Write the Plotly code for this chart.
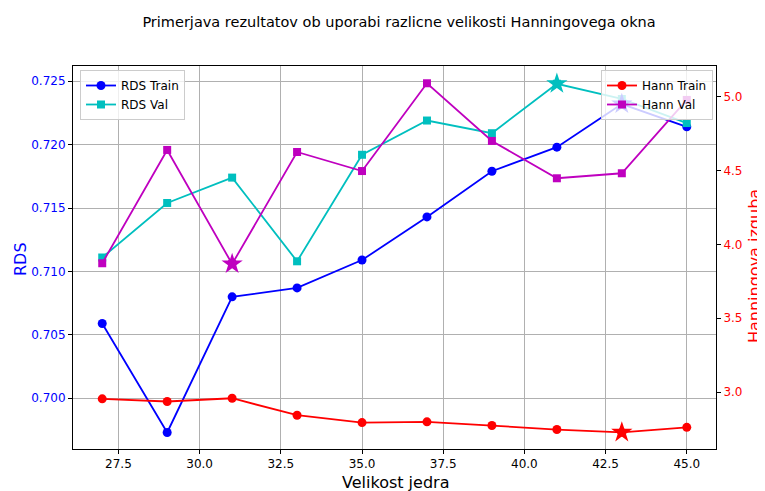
import plotly.graph_objects as go
import numpy as np

kernel_sizes = [27, 29, 31, 33, 35, 37, 39, 41, 43, 45]
rds_train = [0.7059, 0.6973, 0.7080, 0.7087, 0.7109, 0.7143, 0.7179, 0.7198, 0.7232, 0.7214]
rds_val = [0.7111, 0.7154, 0.7174, 0.7108, 0.7192, 0.7219, 0.7209, 0.7248, 0.7236, 0.7217]
hann_train = [2.954, 2.936, 2.958, 2.843, 2.793, 2.798, 2.773, 2.746, 2.727, 2.761]
hann_val = [3.873, 4.641, 3.868, 4.627, 4.498, 5.093, 4.702, 4.449, 4.483, 4.980]
x_ticks = [27.5, 30.0, 32.5, 35.0, 37.5, 40.0, 42.5, 45.0]

FONT = "DejaVu Sans"
BLUE, CYAN, RED, MAG = "#0000ff", "#00bfbf", "#ff0000", "#bf00bf"

# page body has an 8px margin: figure is drawn at (8, 8)
OFF = 8
W, H = 765 - OFF, 491 - OFF

fig = go.Figure()

def series(y, name, color, symbol, yaxis, legend):
    fig.add_trace(go.Scatter(
        x=kernel_sizes, y=y, name=name, mode="lines+markers",
        line=dict(color=color, width=1.8),
        marker=dict(color=color, symbol=symbol, size=9 if symbol == "circle" else 8),
        yaxis=yaxis, legend=legend))

def star(y, idx, color, yaxis):
    fig.add_trace(go.Scatter(
        x=[kernel_sizes[idx]], y=[y[idx]], mode="markers", showlegend=False,
        marker=dict(color=color, symbol="star", size=16, line=dict(width=0)),
        yaxis=yaxis))

series(rds_train, "RDS Train", BLUE, "circle", "y", "legend")
series(rds_val, "RDS Val", CYAN, "square", "y", "legend")
star(rds_train, int(np.argmax(rds_train)), BLUE, "y")
star(rds_val, int(np.argmax(rds_val)), CYAN, "y")
series(hann_train, "Hann Train", RED, "circle", "y2", "legend2")
series(hann_val, "Hann Val", MAG, "square", "y2", "legend2")
star(hann_train, int(np.argmin(hann_train)), RED, "y2")
star(hann_val, int(np.argmin(hann_val)), MAG, "y2")

axis_common = dict(showline=True, linecolor="black", linewidth=1, ticks="outside",
                   ticklen=4, tickwidth=1, tickcolor="black", zeroline=False)

fig.update_layout(
    width=W, height=H,
    margin=dict(l=73 - OFF, r=49, t=66 - OFF, b=42, autoexpand=False),
    paper_bgcolor="white", plot_bgcolor="white",
    font=dict(family=FONT, size=12, color="black"),
    title=dict(text="Primerjava rezultatov ob uporabi razlicne velikosti Hanningovega okna",
               x=(399 - OFF) / W, xref="container", xanchor="center",
               y=1 - (22 - OFF) / H, yref="container", yanchor="middle",
               font=dict(family=FONT, size=14.5, color="black")),
    xaxis=dict(range=[26.1, 45.9], tickvals=x_ticks, tickformat=".1f",
               showgrid=True, gridcolor="#b0b0b0", gridwidth=1, mirror=True,
               **axis_common),
    yaxis=dict(range=[0.6960, 0.7262], tick0=0.700, dtick=0.005, tickformat=".3f",
               showgrid=True, gridcolor="#b0b0b0", gridwidth=1,
               tickfont=dict(color=BLUE), **axis_common),
    yaxis2=dict(range=[2.614, 5.21], tick0=3.0, dtick=0.5, tickformat=".1f",
                overlaying="y", side="right", showgrid=False,
                tickfont=dict(color=RED), **axis_common),
    legend=dict(x=(80 - 73) / 643, y=1 - 4 / 383, xanchor="left", yanchor="top",
                bgcolor="rgba(255,255,255,0.8)", bordercolor="#cccccc", borderwidth=1,
                font=dict(size=12), itemwidth=30, tracegroupgap=0),
    legend2=dict(x=(713 - 73) / 643, y=1 - 4 / 383, xanchor="right", yanchor="top",
                 bgcolor="rgba(255,255,255,0.8)", bordercolor="#cccccc", borderwidth=1,
                 font=dict(size=12), itemwidth=30, tracegroupgap=0),
    annotations=[
        dict(text="RDS", x=(20 - 73) / 643, y=(449 - 259) / 383, xref="paper", yref="paper",
             textangle=-90, showarrow=False, xanchor="center", yanchor="middle",
             font=dict(size=16, color=BLUE)),
        dict(text="Hanningova izguba", x=(754 - 73) / 643, y=(449 - 266) / 383,
             xref="paper", yref="paper",
             textangle=-90, showarrow=False, xanchor="center", yanchor="middle",
             font=dict(size=16, color=RED)),
        dict(text="Velikost jedra", x=(395 - 73) / 643, y=(449 - 482) / 383,
             xref="paper", yref="paper", showarrow=False, xanchor="center", yanchor="middle",
             font=dict(size=16, color="black")),
    ],
)

fig.write_html("out.html")
